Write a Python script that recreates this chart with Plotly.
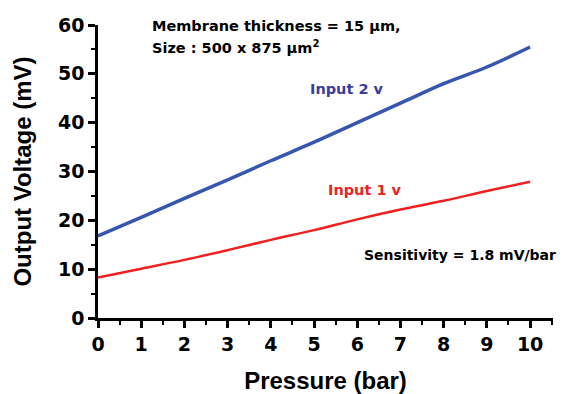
import plotly.graph_objects as go

pressure = [0, 1, 2, 3, 4, 5, 6, 7, 8, 9, 10]
input1_mv = [8.3, 10.1, 11.9, 13.9, 16.0, 18.0, 20.2, 22.2, 24.0, 26.0, 27.9]
input2_mv = [16.8, 20.6, 24.5, 28.3, 32.2, 36.0, 40.0, 44.0, 48.0, 51.4, 55.5]
x_ticks = [0, 1, 2, 3, 4, 5, 6, 7, 8, 9, 10]
y_ticks = [0, 10, 20, 30, 40, 50, 60]

FONT = "Liberation Sans, Arial, sans-serif"
WIDE = "DejaVu Sans, sans-serif"

fig = go.Figure()
fig.add_trace(go.Scatter(x=pressure, y=input2_mv, mode="lines",
                         line=dict(color="#3656b0", width=3.5, shape="spline"),
                         showlegend=False))
fig.add_trace(go.Scatter(x=pressure, y=input1_mv, mode="lines",
                         line=dict(color="#f02020", width=2.5, shape="spline"),
                         showlegend=False))

def ann(x, y, text, color="black", size=14, xanchor="left"):
    fig.add_annotation(x=x, y=y, xref="x", yref="y", text=text, showarrow=False,
                       xanchor=xanchor, yanchor="middle",
                       font=dict(family=WIDE, size=size, color=color))

ann(1.2, 59.7, "<b>Membrane thickness = 15 µm,</b>", size=14.5)
ann(1.2, 55.4, "<b>Size : 500 x 875 µm<sup>2</sup></b>", size=14.5)
ann(5.76, 46.9, "<b>Input 2 v</b>", color="#3a3d9c", size=14.5, xanchor="center")
ann(6.18, 26.2, "<b>Input 1 v</b>", color="#ee2222", size=14.5, xanchor="center")
ann(6.1, 12.9, "<b>Sensitivity = 1.8 mV/bar</b>", size=14)

axis_common = dict(
    showline=True, linecolor="black", linewidth=2.5, mirror=False,
    showgrid=False, zeroline=False, automargin=False,
    ticks="outside", ticklen=7, tickwidth=2.5, tickcolor="black",
    tickfont=dict(family=WIDE, size=19, color="black"),
    minor=dict(ticks="outside", ticklen=4, tickwidth=2, tickcolor="black"),
)

fig.update_xaxes(range=[0, 10.53], tickvals=x_ticks,
                 ticktext=[f"<b>{v}</b>" for v in x_ticks],
                 minor_dtick=0.5, minor_tick0=0,
                 title=dict(text="<b>Pressure (bar)</b>", standoff=20,
                            font=dict(family=FONT, size=24, color="black")),
                 **axis_common)
fig.update_yaxes(range=[0, 60], tickvals=y_ticks,
                 ticktext=[f"<b>{v}</b>" for v in y_ticks],
                 minor_dtick=5, minor_tick0=0,
                 title=dict(text="<b>Output Voltage (mV)</b>", standoff=20,
                            font=dict(family=FONT, size=24, color="black")),
                 **axis_common)

fig.update_layout(width=564, height=394, plot_bgcolor="white", paper_bgcolor="white",
                  margin=dict(l=98, r=11, t=25, b=76))

fig.write_html("out.html")
